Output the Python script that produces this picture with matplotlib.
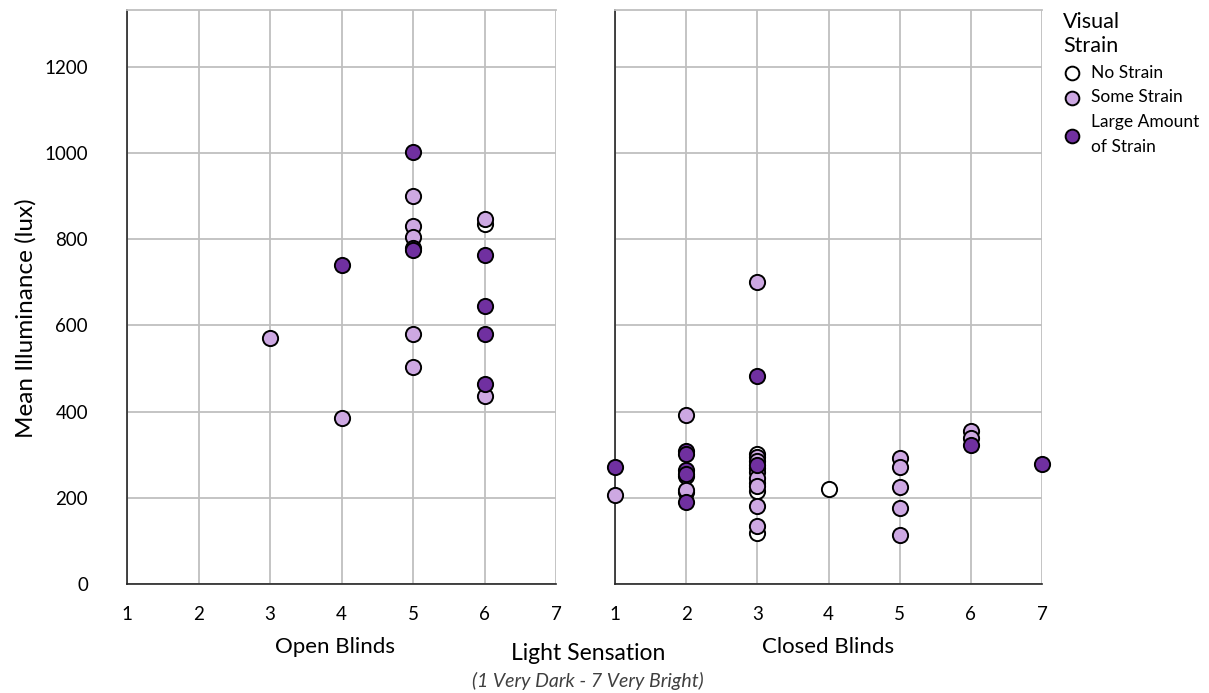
import numpy as np
import matplotlib
matplotlib.use('Agg')
import matplotlib.pyplot as plt

plt.rcParams['font.family'] = ['Lato', 'DejaVu Sans']

# open blinds
open_no_x = [6]
open_no_y = [835]
open_some_x = [3, 4, 5, 5, 5, 5, 5, 6, 6]
open_some_y = [572, 385, 900, 830, 806, 580, 504, 846, 436]
open_large_x = [4, 5, 5, 5, 6, 6, 6, 6]
open_large_y = [740, 1002, 780, 775, 764, 645, 579, 463]

# closed blinds
closed_no_x = [2, 2, 3, 3, 3, 3, 3, 4]
closed_no_y = [250, 213, 302, 270, 235, 215, 118, 220]
closed_some_x = [1, 2, 2, 3, 3, 3, 3, 3, 3, 3, 3, 5, 5, 5, 5, 5, 6, 6]
closed_some_y = [207, 393, 218, 700, 295, 285, 260, 247, 227, 180, 135, 292, 272, 226, 176, 114, 354, 338]
closed_large_x = [1, 2, 2, 2, 2, 2, 3, 3, 6, 7]
closed_large_y = [272, 309, 302, 264, 255, 190, 482, 275, 322, 278]

labels = ['No Strain', 'Some Strain', 'Large Amount\nof Strain']
colors = ['#FFFFFF', '#CDA8E2', '#7030A0']
x_ticks = [1, 2, 3, 4, 5, 6, 7]
y_ticks = [0, 200, 400, 600, 800, 1000, 1200]

fig = plt.figure(figsize=(12.09, 6.93), dpi=100)
ax1 = fig.add_axes([127 / 1209, 109 / 693, 429 / 1209, 574 / 693])
ax2 = fig.add_axes([615 / 1209, 109 / 693, 427 / 1209, 574 / 693])

panels = [
    (ax1, [(open_no_x, open_no_y), (open_some_x, open_some_y), (open_large_x, open_large_y)]),
    (ax2, [(closed_no_x, closed_no_y), (closed_some_x, closed_some_y), (closed_large_x, closed_large_y)]),
]

handles = []
for ax, series in panels:
    for i, (xs, ys) in enumerate(series):
        h = ax.scatter(xs, ys, s=120, c=colors[i], edgecolors='black', linewidths=1.4,
                       zorder=3 + i, label=labels[i], clip_on=False)
        if ax is ax1:
            handles.append(h)
    ax.set_xlim(1, 7)
    ax.set_ylim(0, 1332)
    ax.set_xticks(x_ticks)
    ax.set_yticks(y_ticks)
    ax.grid(True, color='#BFBFBF', linewidth=1.3, zorder=0)
    ax.set_axisbelow(True)
    ax.spines['right'].set_visible(False)
    ax.spines['top'].set_color('#BFBFBF')
    ax.spines['top'].set_linewidth(1.3)
    for s in ['left', 'bottom']:
        ax.spines[s].set_color('#262626')
        ax.spines[s].set_linewidth(1.2)
    ax.tick_params(length=0, labelsize=13.5, pad=16)
    ax.tick_params(axis='y', pad=28)

ax2.tick_params(axis='y', labelleft=False)
ax1.set_ylabel('Mean Illuminance (lux)', fontsize=17.5)
ax1.yaxis.set_label_coords(-0.21, 0.463)

fig.text(335 / 1209, 1 - 647 / 693, 'Open Blinds', ha='center', va='center', fontsize=16)
fig.text(828 / 1209, 1 - 647 / 693, 'Closed Blinds', ha='center', va='center', fontsize=16)
fig.text(588 / 1209, 1 - 653 / 693, 'Light Sensation', ha='center', va='center', fontsize=16.5)
fig.text(588 / 1209, 1 - 681 / 693, '(1 Very Dark - 7 Very Bright)', ha='center', va='center',
         fontsize=14, style='italic', color='#404040')

leg = fig.legend(handles=handles, loc='upper left', bbox_to_anchor=(1056 / 1209, 1 - 5 / 693),
                 frameon=False, title='Visual\nStrain', title_fontsize=15.5, fontsize=12.5,
                 alignment='left', handlelength=1.0, handletextpad=0.6, labelspacing=0.5,
                 borderaxespad=0, markerscale=0.9)
leg.get_title().set_linespacing(1.25)
for t in leg.get_texts():
    t.set_linespacing(1.7)

fig.savefig('out.png', dpi=100)
